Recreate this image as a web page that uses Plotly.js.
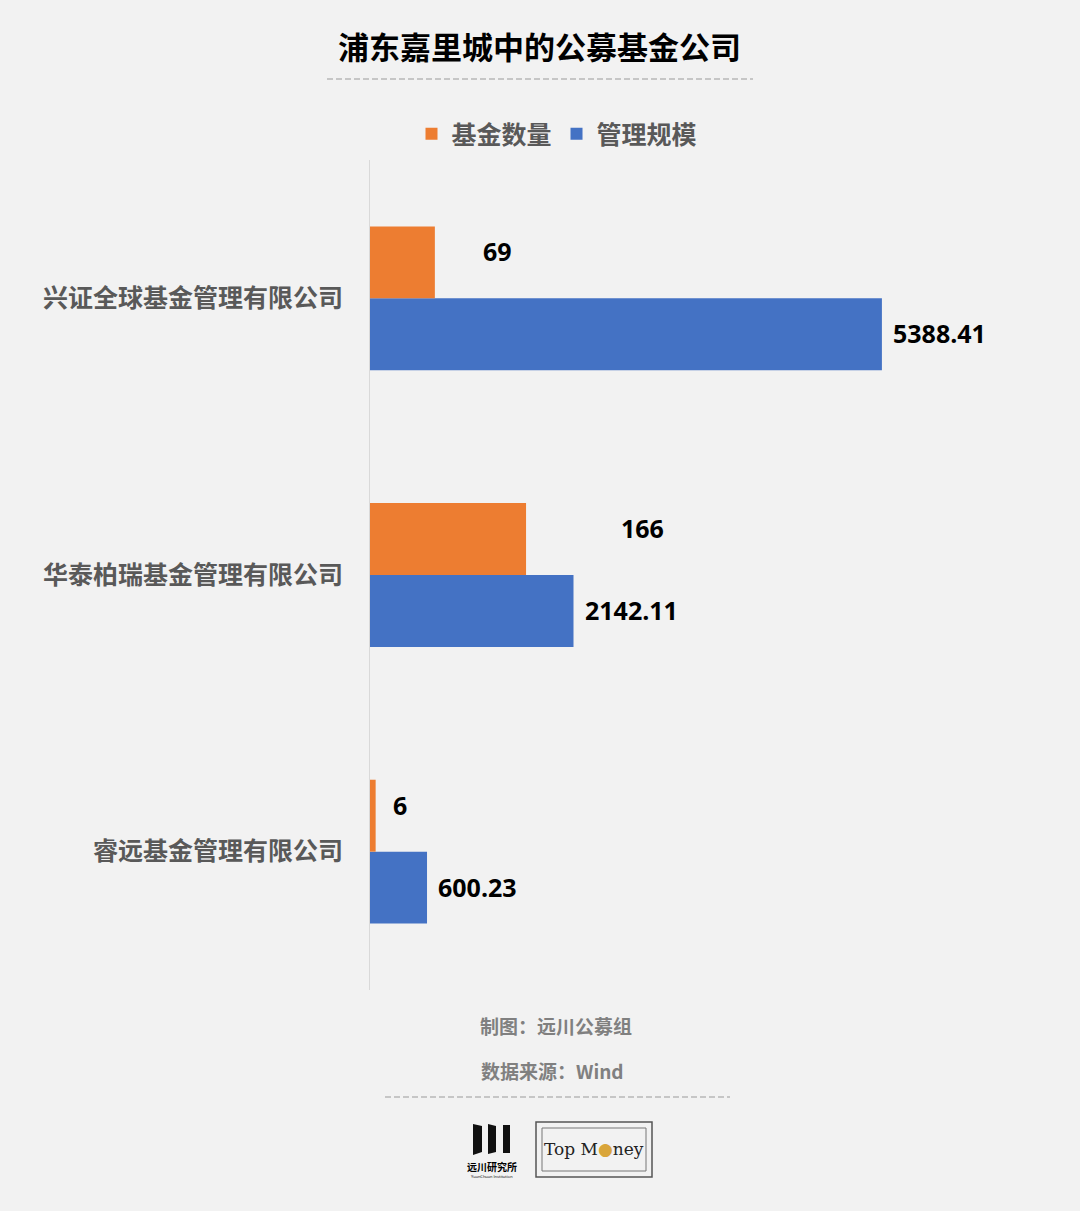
<!DOCTYPE html>
<html>
<head>
<meta charset="utf-8">
<script src="https://cdn.plot.ly/plotly-3.0.1.min.js"></script>
<style>
  html, body { margin: 0; padding: 0; background: #f2f2f2; }
  #chart { width: 1080px; height: 1211px; }
</style>
</head>
<body>
<div id="chart"></div>
<script>
// ---- data ----
const companies = ['兴证全球基金管理有限公司', '华泰柏瑞基金管理有限公司', '睿远基金管理有限公司'];
const fundCount = [69, 166, 6];               // 基金数量
const aum = [5388.41, 2142.11, 600.23];       // 管理规模
const aumLabels = ['5388.41', '2142.11', '600.23'];
const seriesNames = ['基金数量', '管理规模'];

const orange = '#ED7D31';
const blue = '#4472C4';
const cjk = '"Noto Sans CJK SC", "Noto Sans", sans-serif';
const numFont = '"Open Sans", "Liberation Sans", sans-serif';

const barW = 0.26;

// page geometry
const W = 1080, H = 1211;
const ml = 370, mr = 20, mt = 160, mb = 221;
const pw = W - ml - mr, ph = H - mt - mb;
const px = v => (v - ml) / pw;
const py = v => 1 - (v - mt) / ph;

const traces = [
  {
    type: 'bar', orientation: 'h', name: seriesNames[0],
    y: companies, x: fundCount, xaxis: 'x2', yaxis: 'y',
    width: barW, offset: -barW,
    marker: { color: orange }, hoverinfo: 'x+y'
  },
  {
    type: 'bar', orientation: 'h', name: seriesNames[1],
    y: companies, x: aum, xaxis: 'x', yaxis: 'y',
    width: barW, offset: 0,
    marker: { color: blue }, hoverinfo: 'x+y'
  }
];

const annotations = [];
companies.forEach((c, i) => {
  annotations.push({
    xref: 'x2', yref: 'y', x: fundCount[i] * 1.52, y: c,
    text: String(fundCount[i]), showarrow: false,
    xanchor: 'left', yanchor: 'middle', xshift: 12, yshift: 47,
    font: { family: numFont, size: 25, color: '#000', weight: 700 }
  });
  annotations.push({
    xref: 'x', yref: 'y', x: aum[i], y: c,
    text: aumLabels[i], showarrow: false,
    xanchor: 'left', yanchor: 'middle', xshift: 9, yshift: -35,
    font: { family: numFont, size: 25, color: '#000', weight: 700 }
  });
});

const txt = (x, y, text, font) => ({
  xref: 'paper', yref: 'paper', x: px(x), y: py(y), text: text,
  showarrow: false, xanchor: 'center', yanchor: 'middle', font: font
});

annotations.push(
  txt(539, 45, '浦东嘉里城中的公募基金公司', { family: cjk, size: 31, color: '#000', weight: 700 }),
  txt(556, 1025, '制图：远川公募组', { family: cjk, size: 19, color: '#808080', weight: 700 }),
  txt(552, 1070, '数据来源：Wind', { family: cjk, size: 19, color: '#808080', weight: 700 }),
  txt(492, 1166, '远川研究所', { family: cjk, size: 10, color: '#000', weight: 700 }),
  txt(492, 1176, 'YuanChuan Institution', { family: numFont, size: 4, color: '#000' }),
  txt(594, 1149, 'Top M<span style="color:#d9a53a">●</span>ney',
      { family: '"DejaVu Serif", "Liberation Serif", serif', size: 17, color: '#222' })
);

const shapes = [
  { type: 'line', xref: 'paper', yref: 'paper', x0: px(327), x1: px(753), y0: py(79), y1: py(79),
    line: { color: '#9a9a9a', width: 1.2, dash: '6px,3px' } },
  { type: 'line', xref: 'paper', yref: 'paper', x0: px(385), x1: px(730), y0: py(1097), y1: py(1097),
    line: { color: '#9a9a9a', width: 1.2, dash: '6px,3px' } },
  // logo bars
  { type: 'path', xref: 'paper', yref: 'paper', fillcolor: '#111', line: { width: 0 },
    path: `M ${px(473)} ${py(1124)} L ${px(482)} ${py(1126)} L ${px(482)} ${py(1152)} L ${px(473)} ${py(1155)} Z` },
  { type: 'path', xref: 'paper', yref: 'paper', fillcolor: '#111', line: { width: 0 },
    path: `M ${px(488)} ${py(1124)} L ${px(496)} ${py(1126)} L ${px(496)} ${py(1152)} L ${px(488)} ${py(1154)} Z` },
  { type: 'rect', xref: 'paper', yref: 'paper', x0: px(503), x1: px(510), y0: py(1125), y1: py(1153),
    fillcolor: '#111', line: { width: 0 } },
  // Top Money box
  { type: 'rect', xref: 'paper', yref: 'paper', x0: px(536), x1: px(652), y0: py(1122), y1: py(1177),
    fillcolor: 'rgba(0,0,0,0)', line: { color: '#555', width: 1.5 } },
  { type: 'rect', xref: 'paper', yref: 'paper', x0: px(542), x1: px(646), y0: py(1128), y1: py(1171),
    fillcolor: 'rgba(0,0,0,0)', line: { color: '#777', width: 1 } }
];

const layout = {
  width: W, height: H,
  paper_bgcolor: '#f2f2f2', plot_bgcolor: '#f2f2f2',
  margin: { l: ml, r: mr, t: mt, b: mb },
  showlegend: true,
  legend: {
    orientation: 'h', xref: 'container', yref: 'container',
    x: 557 / 1080, y: 1 - 134 / 1211, xanchor: 'center', yanchor: 'middle',
    font: { family: cjk, size: 25, color: '#595959', weight: 700 },
    itemwidth: 30, traceorder: 'normal', bgcolor: 'rgba(0,0,0,0)'
  },
  xaxis: { range: [0, 7263], visible: false, fixedrange: true },
  xaxis2: { range: [0, 734], overlaying: 'x', side: 'top', visible: false, fixedrange: true },
  yaxis: {
    type: 'category', range: [2.5, -0.5],
    showline: true, linecolor: '#d9d9d9', linewidth: 1,
    showgrid: false, zeroline: false, ticks: '',
    ticklabelstandoff: 21,
    tickfont: { family: cjk, size: 25, color: '#595959', weight: 700 }
  },
  annotations: annotations,
  shapes: shapes
};

Plotly.newPlot('chart', traces, layout, { displayModeBar: false, staticPlot: true });
</script>
</body>
</html>
